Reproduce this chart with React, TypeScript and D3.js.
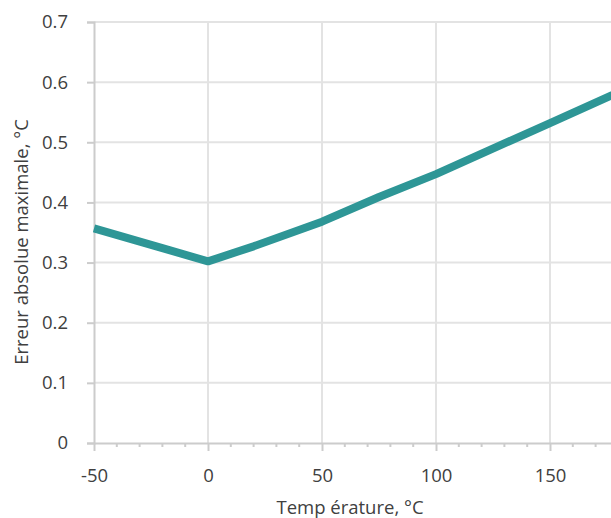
import { useRef, useEffect } from 'react';
import * as d3 from 'd3';

// readings from the plot
const temps = [-50, -20, 0, 20, 50, 75, 100, 150, 200];
const errors = [0.357, 0.324, 0.302, 0.327, 0.368, 0.409, 0.447, 0.532, 0.617];
const xTicks = [-50, 0, 50, 100, 150];
const yTicks = [0, 0.1, 0.2, 0.3, 0.4, 0.5, 0.6, 0.7];

const App = () => {
  const svgRef = useRef(null);
  const width = 611;
  const height = 518;

  useEffect(() => {
    const svg = d3.select(svgRef.current);
    svg.selectAll('*').remove();

    const x = d3.scaleLinear().domain([-50, 200]).range([94, 664]);
    const y = d3.scaleLinear().domain([0, 0.7]).range([443, 22]);
    const font = "'Open Sans', sans-serif";
    const textColor = '#404040';
    const fontSize = 18.5;

    // gridlines
    svg.append('g')
      .selectAll('line')
      .data(yTicks.slice(1))
      .enter()
      .append('line')
      .attr('x1', 94).attr('x2', width)
      .attr('y1', d => y(d)).attr('y2', d => y(d))
      .attr('stroke', '#e3e3e3').attr('stroke-width', 2);

    svg.append('g')
      .selectAll('line')
      .data(xTicks.slice(1))
      .enter()
      .append('line')
      .attr('x1', d => x(d)).attr('x2', d => x(d))
      .attr('y1', y(0.7)).attr('y2', y(0))
      .attr('stroke', '#e3e3e3').attr('stroke-width', 2);

    // y axis
    const yAxis = svg.append('g')
      .attr('transform', `translate(94,0)`)
      .call(d3.axisLeft(y).tickValues(yTicks).tickSize(7).tickPadding(19)
        .tickFormat(d => (d === 0 ? '0' : d3.format('.1f')(d))));
    yAxis.select('.domain').attr('stroke', '#cccccc').attr('stroke-width', 2);
    yAxis.selectAll('.tick line').attr('stroke', '#cccccc').attr('stroke-width', 2);
    yAxis.selectAll('text')
      .attr('fill', textColor).attr('font-size', fontSize).attr('font-family', font);

    // x axis minor ticks every 10
    const minor = d3.range(-50, 180, 10).filter(d => !xTicks.includes(d));
    svg.append('g')
      .selectAll('line')
      .data(minor)
      .enter()
      .append('line')
      .attr('x1', d => x(d)).attr('x2', d => x(d))
      .attr('y1', y(0)).attr('y2', y(0) + 4)
      .attr('stroke', '#cccccc').attr('stroke-width', 2);

    const xAxis = svg.append('g')
      .attr('transform', `translate(0,${y(0)})`)
      .call(d3.axisBottom(x).tickValues(xTicks).tickSize(8).tickPadding(18).tickSizeOuter(0)
        .tickFormat(d => String(d)));
    xAxis.select('.domain').attr('stroke', '#cccccc').attr('stroke-width', 2);
    xAxis.selectAll('.tick line').attr('stroke', '#cccccc').attr('stroke-width', 2);
    xAxis.selectAll('text')
      .attr('fill', textColor).attr('font-size', fontSize).attr('font-family', font);

    // line
    const line = d3.line()
      .x((d, i) => x(temps[i]))
      .y(d => y(d));

    svg.append('path')
      .datum(errors)
      .attr('fill', 'none')
      .attr('stroke', '#2e9696')
      .attr('stroke-width', 8)
      .attr('stroke-linejoin', 'round')
      .attr('d', line);

    // axis labels
    svg.append('text')
      .attr('x', 350).attr('y', 514)
      .attr('text-anchor', 'middle')
      .attr('fill', textColor).attr('font-size', fontSize).attr('font-family', font)
      .text('Temp érature, °C');

    svg.append('text')
      .attr('transform', 'rotate(-90)')
      .attr('x', -242).attr('y', 28)
      .attr('text-anchor', 'middle')
      .attr('fill', textColor).attr('font-size', fontSize).attr('font-family', font)
      .text('Erreur absolue maximale, °C');
  }, []);

  return (
    <svg ref={svgRef} width={width} height={height}
      style={{ position: 'absolute', left: 0, top: 0, background: '#fff' }} />
  );
};

export default App;
